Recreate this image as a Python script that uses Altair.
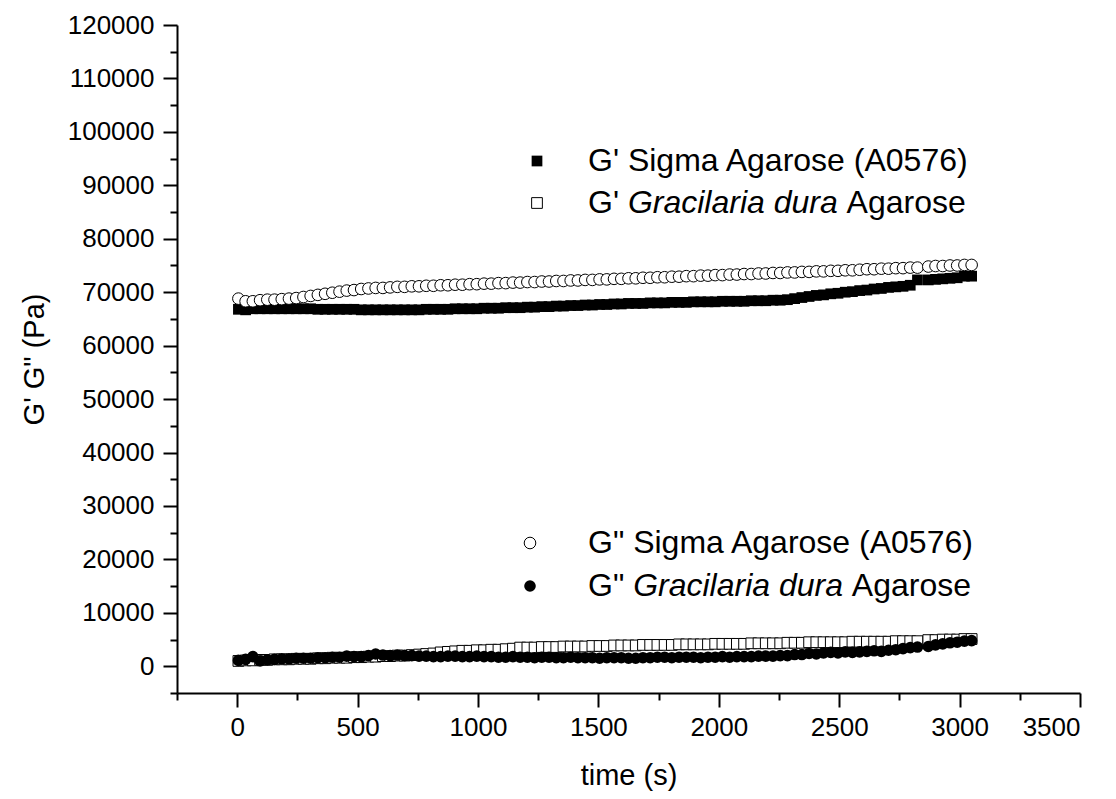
import altair as alt
import pandas as pd

# ---------------- data ----------------
times = [5, 35, 65, 95, 125, 155, 185, 215, 245, 275,
         305, 335, 365, 395, 425, 455, 485, 515, 545, 575,
         605, 635, 665, 695, 725, 755, 785, 815, 845, 875,
         905, 935, 965, 995, 1025, 1055, 1085, 1115, 1145, 1175,
         1205, 1235, 1265, 1295, 1325, 1355, 1385, 1415, 1445, 1475,
         1505, 1535, 1565, 1595, 1625, 1655, 1685, 1715, 1745, 1775,
         1805, 1835, 1865, 1895, 1925, 1955, 1985, 2015, 2045, 2075,
         2105, 2135, 2165, 2195, 2225, 2255, 2285, 2315, 2345, 2375,
         2405, 2435, 2465, 2495, 2525, 2555, 2585, 2615, 2645, 2675,
         2705, 2735, 2765, 2795, 2825,
         2870, 2900, 2930, 2960, 2990, 3020, 3050]

# upper group, open circles
upper_open = [68800, 68300, 68300, 68500, 68600, 68600, 68700, 68800, 68900, 69100,
              69300, 69500, 69700, 69900, 70100, 70300, 70400, 70600, 70700, 70800,
              70800, 70900, 71000, 71000, 71100, 71100, 71200, 71200, 71300, 71300,
              71400, 71400, 71500, 71500, 71600, 71600, 71700, 71700, 71800, 71800,
              71900, 71900, 72000, 72000, 72100, 72100, 72200, 72200, 72300, 72300,
              72400, 72400, 72500, 72500, 72600, 72600, 72700, 72700, 72800, 72800,
              72900, 72900, 73000, 73000, 73100, 73100, 73200, 73200, 73300, 73300,
              73400, 73400, 73500, 73500, 73600, 73600, 73700, 73700, 73800, 73800,
              73900, 73900, 74000, 74000, 74100, 74100, 74200, 74300, 74300, 74400,
              74400, 74500, 74500, 74600, 74600,
              74800, 74900, 74900, 75000, 75000, 75100, 75100]

# upper group, filled squares
upper_filled = [66800, 66700, 66900, 66900, 66900, 66900, 66900, 66900, 66900, 66900,
                66900, 66800, 66800, 66800, 66800, 66800, 66800, 66700, 66700, 66700,
                66700, 66700, 66700, 66700, 66700, 66700, 66800, 66800, 66800, 66800,
                66900, 66900, 66900, 66900, 67000, 67000, 67000, 67100, 67100, 67100,
                67200, 67200, 67300, 67300, 67400, 67400, 67500, 67500, 67600, 67600,
                67700, 67700, 67800, 67800, 67900, 67900, 67900, 68000, 68000, 68000,
                68100, 68100, 68100, 68200, 68200, 68200, 68200, 68300, 68300, 68300,
                68300, 68400, 68400, 68400, 68500, 68500, 68600, 68800, 69000, 69200,
                69400, 69500, 69700, 69800, 70000, 70100, 70300, 70400, 70600, 70700,
                70900, 71000, 71100, 71300, 72300,
                72300, 72400, 72500, 72600, 72700, 73000, 73000]

# lower group, open squares
lower_open = [1000, 1100, 1100, 1200, 1200, 1300, 1300, 1300, 1400, 1400,
              1400, 1500, 1500, 1600, 1600, 1600, 1700, 1700, 1800, 1800,
              1900, 1900, 2000, 2000, 2100, 2200, 2300, 2400, 2600, 2700,
              2800, 2900, 2900, 3000, 3000, 3100, 3100, 3200, 3300, 3500,
              3500, 3500, 3600, 3600, 3600, 3700, 3700, 3700, 3700, 3800,
              3800, 3800, 3900, 3900, 3900, 3900, 4000, 4000, 4000, 4000,
              4000, 4100, 4100, 4100, 4100, 4100, 4200, 4200, 4200, 4200,
              4200, 4300, 4300, 4300, 4300, 4300, 4400, 4400, 4400, 4500,
              4500, 4500, 4500, 4500, 4500, 4600, 4600, 4600, 4600, 4600,
              4600, 4700, 4700, 4700, 4700,
              4900, 4900, 5000, 5000, 5000, 5100, 5100]

# lower group, filled circles
lower_filled = [1100, 1300, 1800, 1000, 1200, 1300, 1400, 1400, 1500, 1500,
                1500, 1600, 1600, 1700, 1700, 1900, 1800, 1800, 2000, 2300,
                2100, 2000, 2100, 2000, 2000, 1900, 1900, 1800, 1800, 1900,
                1900, 1800, 1800, 1900, 1800, 1800, 1700, 1700, 1800, 1700,
                1700, 1600, 1700, 1700, 1600, 1600, 1700, 1600, 1600, 1600,
                1500, 1600, 1600, 1600, 1500, 1500, 1600, 1600, 1700, 1700,
                1600, 1700, 1700, 1700, 1600, 1700, 1700, 1800, 1700, 1800,
                1800, 1800, 1900, 1900, 1900, 2000, 2000, 2200, 2200, 2400,
                2300, 2500, 2600, 2500, 2700, 2600, 2700, 2800, 2900, 2800,
                3000, 3100, 3300, 3500, 3600,
                3700, 4000, 4200, 4400, 4500, 4700, 4800]

legend_upper = ["G' Sigma Agarose (A0576)", ["G'", "Gracilaria dura", "Agarose"]]
legend_lower = ['G" Sigma Agarose (A0576)', ['G"', "Gracilaria dura", "Agarose"]]

x_ticks = [-250, 0, 250, 500, 750, 1000, 1250, 1500, 1750, 2000, 2250,
           2500, 2750, 3000, 3250, 3500]
y_ticks = [-5000, 0, 5000, 10000, 15000, 20000, 25000, 30000, 35000, 40000,
           45000, 50000, 55000, 60000, 65000, 70000, 75000, 80000, 85000,
           90000, 95000, 100000, 105000, 110000, 115000, 120000]

df = pd.DataFrame({
    "t": times,
    "upper_open": upper_open,
    "upper_filled": upper_filled,
    "lower_open": lower_open,
    "lower_filled": lower_filled,
})

FONT = "Liberation Sans"
TICK_FS = 26
TITLE_FS = 29
LEG_FS = 32

x_axis = alt.Axis(
    values=x_ticks, format="d", title="time (s)",
    labelExpr="datum.value % 500 === 0 ? datum.label : ''",
    tickSize={"condition": {"test": "datum.value % 500 === 0", "value": 14}, "value": 7},
    labelPadding=7, labelOverlap=False, labelFontSize=TICK_FS,
    titleFontSize=TITLE_FS, titleY=82, titleBaseline="middle",
)
y_axis = alt.Axis(
    values=y_ticks, format="d", title='G\' G" (Pa)',
    labelExpr="datum.value % 10000 === 0 ? datum.label : ''",
    tickSize={"condition": {"test": "datum.value % 10000 === 0", "value": 14}, "value": 7},
    labelPadding=9, labelOverlap=False, labelFontSize=TICK_FS,
    titleFontSize=TITLE_FS, titleX=-143, titleBaseline="middle",
)
x_scale = alt.Scale(domain=[-250, 3500], nice=False, zero=False)
y_scale = alt.Scale(domain=[-5000, 120000], nice=False, zero=False)


def enc(field):
    return dict(
        x=alt.X("t:Q", scale=x_scale, axis=x_axis),
        y=alt.Y(f"{field}:Q", scale=y_scale, axis=y_axis),
    )


SQ = 115
CI = 135

l_upper_filled = alt.Chart(df).mark_point(
    shape="square", filled=True, color="black", size=SQ, opacity=1
).encode(**enc("upper_filled"))
l_upper_open = alt.Chart(df).mark_point(
    shape="circle", filled=True, fill="white", stroke="black", strokeWidth=1,
    size=CI, opacity=1
).encode(**enc("upper_open"))
l_lower_open = alt.Chart(df).mark_point(
    shape="square", filled=True, fill="white", stroke="black", strokeWidth=1,
    size=SQ, opacity=1
).encode(**enc("lower_open"))
l_lower_filled = alt.Chart(df).mark_point(
    shape="circle", filled=True, color="black", size=CI, opacity=1
).encode(**enc("lower_filled"))

# ---------------- custom legends ----------------
one = pd.DataFrame({"k": [0]})


def sym(shape, filled, px, py):
    sz = SQ if shape == "square" else CI
    if filled:
        m = alt.Chart(one).mark_point(shape=shape, filled=True, color="black",
                                      size=sz, opacity=1)
    else:
        m = alt.Chart(one).mark_point(shape=shape, filled=True, fill="white",
                                      stroke="black", strokeWidth=1,
                                      size=sz, opacity=1)
    return m.encode(x=alt.value(px), y=alt.value(py))


def txt(s, px, py, italic=False):
    return alt.Chart(pd.DataFrame({"s": [s]})).mark_text(
        align="left", baseline="middle", font=FONT, fontSize=LEG_FS,
        fontStyle="italic" if italic else "normal", color="black"
    ).encode(x=alt.value(px), y=alt.value(py), text="s:N")


def mixed(parts, px, py, first_em):
    a, b, c = parts
    o1 = px + first_em * LEG_FS
    o2 = o1 + 6.835 * LEG_FS
    return [txt(a, px, py), txt(b, o1, py, True), txt(c, o2, py)]


TX = 411
legend_layers = [
    sym("square", True, 360, 136),
    txt(legend_upper[0], TX, 136),
    sym("square", False, 360, 178),
    *mixed(legend_upper[1], TX, 178, 1.247),
    sym("circle", False, 353, 518),
    txt(legend_lower[0], TX, 518),
    sym("circle", True, 353, 561),
    *mixed(legend_lower[1], TX, 561, 1.411),
]

chart = alt.layer(
    l_upper_filled, l_upper_open, l_lower_open, l_lower_filled, *legend_layers
).properties(
    width=903, height=668,
    autosize=alt.AutoSizeParams(type="none"),
    padding={"left": 169, "top": 17, "right": 20, "bottom": 98},
).configure_view(stroke=None).configure_axis(
    grid=False, domainColor="black", domainWidth=2, tickColor="black",
    tickWidth=2, labelColor="black", titleColor="black", labelFont=FONT,
    titleFont=FONT, titleFontWeight="normal"
)

chart.save("out.html", embed_options={"renderer": "svg", "actions": False})
